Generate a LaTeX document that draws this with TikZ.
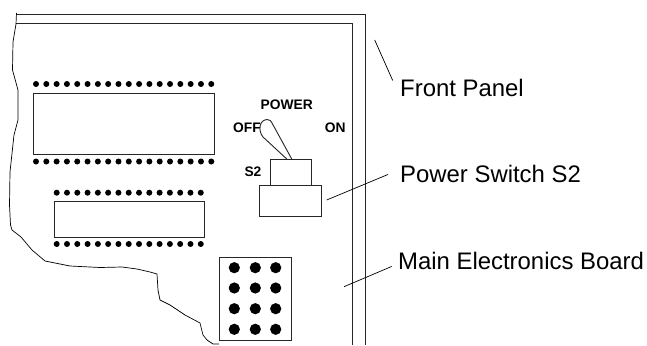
\documentclass[tikz,border=0pt]{standalone}
\usepackage{fontspec}
\setmainfont{Liberation Sans}
\tikzstyle{outline} = [line width=0.9pt, draw=black!85]
\tikzstyle{chip} = [rectangle, line width=0.9pt, draw=black!85, fill=white]
\tikzstyle{pin} = [circle, fill=black, inner sep=0pt, minimum size=6pt]
\tikzstyle{hole} = [circle, fill=black, inner sep=0pt, minimum size=11.2pt]
\tikzstyle{callout} = [anchor=base west, inner sep=0pt, font=\fontsize{23.9}{26}\selectfont]
\tikzstyle{marking} = [anchor=base west, inner sep=0pt, font=\fontsize{13.8}{16}\selectfont\bfseries]
\tikzstyle{leader} = [line width=0.7pt, black]

\begin{document}
\begin{tikzpicture}[x=1pt, y=-1pt]
    \useasboundingbox (0,0) rectangle (647,345);

    % panel frame
    \draw [outline] (16,14) -- (365,14) -- (365,345);
    \draw [outline] (16,23.5) -- (352.5,23.5) -- (352.5,345);

    % torn edge of the board
    \draw [line width=0.7pt] (16.5,13) -- (16,24) -- (13,42) -- (12.5,70) -- (18,90) -- (18,120)
        -- (14,135) -- (10,172) -- (9.5,205) -- (10.5,225) -- (12,230) -- (21,237) -- (32,250) -- (45,261)
        -- (70,266) -- (100,267.5) -- (122,267) -- (137,269) -- (150,272) -- (157,274) -- (158,290)
        -- (160,300) -- (170,305) -- (185,315) -- (200,323) -- (203,335) -- (207,340) -- (213,344) -- (219,344);

    % large chip
    \node (chip_a) [chip, minimum width=181pt, minimum height=61.5pt, anchor=north west] at (33.3,92.5) {};
    \foreach \i in {0,...,17} {
        \node (pin_at\i) [pin] at (36+10.31*\i,84) {};
        \node (pin_ab\i) [pin] at (36+10.31*\i,161.5) {};
    }

    % small chip
    \node (chip_b) [chip, minimum width=149.5pt, minimum height=36.5pt, anchor=north west] at (54,200.5) {};
    \foreach \i in {0,...,14} {
        \node (pin_bt\i) [pin] at (56.7+10.29*\i,192.7) {};
        \node (pin_bb\i) [pin] at (56.7+10.29*\i,244) {};
    }

    % connector block
    \node (block) [chip, minimum width=72.3pt, minimum height=82.7pt, anchor=north west] at (219,257.3) {};
    \foreach \x in {234.3,255.3,275.7}
        \foreach \y in {267.7,288,308.7,329.3}
            \node [hole] at (\x,\y) {};

    % switch markings
    \node (power_text) [marking] at (260.5,109) {POWER};
    \node (off_text) [marking] at (233,132.7) {OFF};
    \node (on_text) [marking] at (324.7,132.7) {ON};
    \node (s2_text) [marking] at (244.3,176) {S2};

    % switch
    \draw [outline, fill=white] (287.3,159.5) -- (263,137) .. controls (258,131) and (259,120) .. (267,119.5)
        .. controls (270,119.5) and (271,121) .. (272,123) -- (292,159.5);
    \node (collar) [chip, minimum width=41.3pt, minimum height=25.7pt, anchor=north west] at (270,159.3) {};
    \node (base) [chip, minimum width=62pt, minimum height=31pt, anchor=north west] at (259.3,185) {};

    % callouts
    \node (front_label) [callout] at (400,96) {Front Panel};
    \node (switch_label) [callout] at (400,182) {Power Switch S2};
    \node (board_label) [callout] at (398,269) {Main Electronics Board};

    \coordinate (front_tip) at (374.7,40);
    \coordinate (switch_tip) at (326.7,200);
    \coordinate (board_tip) at (344,286.7);

    \draw [leader] (front_tip) -- ([xshift=-7.3pt, yshift=-2pt]front_label.north west);
    \draw [leader] (switch_tip) -- ([xshift=-12pt, yshift=-1pt]switch_label.west);
    \draw [leader] (board_tip) -- ([xshift=-6.3pt, yshift=-6pt]board_label.west);
\end{tikzpicture}
\end{document}
